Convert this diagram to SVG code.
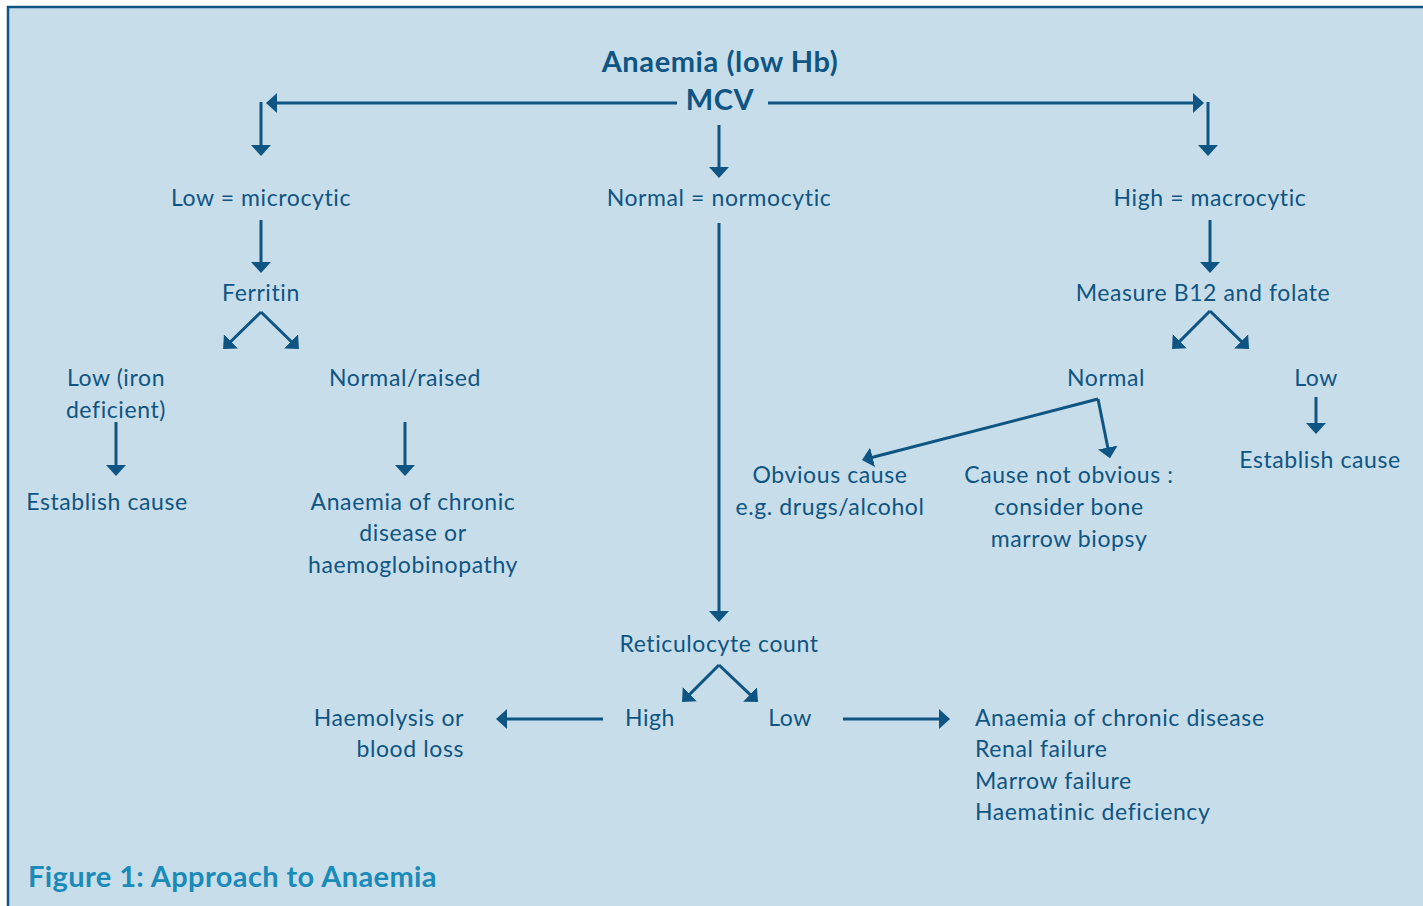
<svg xmlns="http://www.w3.org/2000/svg" width="1423" height="906" viewBox="0 0 1423 906">
<defs>
<marker id="ah" viewBox="0 0 11 20" refX="2" refY="10" markerWidth="11" markerHeight="20" markerUnits="userSpaceOnUse" orient="auto">
<path d="M0,0 L11,10 L0,20 z" fill="#0E5583"/>
</marker>
<style>
text{font-family:Lato,"Open Sans","Liberation Sans",sans-serif;fill:#0E5583;font-size:23px;letter-spacing:0.6px;text-anchor:middle}
.b{font-weight:bold;font-size:29px;letter-spacing:0.6px}
.l{text-anchor:start}
.r{text-anchor:end}
.fig{font-weight:bold;font-size:29px;letter-spacing:0.4px;fill:#1A8BB8;text-anchor:start}
.c{stroke:#0E5583;stroke-width:3;fill:none}
.a{marker-end:url(#ah)}
</style>
</defs>
<rect x="0" y="0" width="1423" height="906" fill="#ffffff"/>
<rect x="8" y="7" width="1430" height="920" fill="#C8DDEA" stroke="#0E5583" stroke-width="2.5"/>

<g id="connectors">
<line class="c a" x1="677" y1="103" x2="275" y2="103"/>
<line class="c a" x1="768" y1="103" x2="1195" y2="103"/>
<line class="c a" x1="261" y1="102" x2="261" y2="147"/>
<line class="c a" x1="1208" y1="102" x2="1208" y2="147"/>
<line class="c a" x1="719" y1="125" x2="719" y2="169"/>
<line class="c a" x1="261" y1="220" x2="261" y2="264"/>
<line class="c a" x1="1210" y1="220" x2="1210" y2="264"/>
<line class="c a" x1="719" y1="223" x2="719" y2="613"/>
<line class="c a" x1="261" y1="312" x2="229.5" y2="342.7"/>
<line class="c a" x1="261" y1="312" x2="292.5" y2="342.7"/>
<line class="c a" x1="1210" y1="311" x2="1178.4" y2="342.6"/>
<line class="c a" x1="1210" y1="311" x2="1242.6" y2="342.7"/>
<line class="c a" x1="116" y1="422" x2="116" y2="467"/>
<line class="c a" x1="405" y1="422" x2="405" y2="467"/>
<line class="c a" x1="1316" y1="397" x2="1316" y2="425"/>
<line class="c a" x1="1098" y1="399" x2="870.7" y2="457.8"/>
<line class="c a" x1="1098" y1="399" x2="1108.2" y2="449.5"/>
<line class="c a" x1="719" y1="665" x2="688.4" y2="695.6"/>
<line class="c a" x1="719" y1="665" x2="751.5" y2="695.8"/>
<line class="c a" x1="603" y1="719" x2="505" y2="719"/>
<line class="c a" x1="843" y1="719" x2="941" y2="719"/>
</g>

<g id="n-anaemia"><text class="b" x="720" y="72">Anaemia (low Hb)</text></g>
<g id="n-mcv"><text class="b" x="720" y="110">MCV</text></g>
<g id="n-low"><text x="261" y="206">Low = microcytic</text></g>
<g id="n-normal"><text x="719" y="206">Normal = normocytic</text></g>
<g id="n-high"><text x="1210" y="206">High = macrocytic</text></g>
<g id="n-ferritin"><text x="261" y="301">Ferritin</text></g>
<g id="n-b12"><text x="1203" y="301">Measure B12 and folate</text></g>
<g id="n-lowiron"><text x="116" y="386">Low (iron</text><text x="116" y="418">deficient)</text></g>
<g id="n-normraised"><text x="405" y="386">Normal/raised</text></g>
<g id="n-est1"><text x="107" y="510">Establish cause</text></g>
<g id="n-acd1"><text x="413" y="510">Anaemia of chronic</text><text x="413" y="541">disease or</text><text x="413" y="573">haemoglobinopathy</text></g>
<g id="n-b12normal"><text x="1106" y="386">Normal</text></g>
<g id="n-b12low"><text x="1316" y="386">Low</text></g>
<g id="n-est2"><text x="1320" y="468">Establish cause</text></g>
<g id="n-obvious"><text x="830" y="483">Obvious cause</text><text x="830" y="515">e.g. drugs/alcohol</text></g>
<g id="n-notobvious"><text x="1069" y="483">Cause not obvious :</text><text x="1069" y="515">consider bone</text><text x="1069" y="547">marrow biopsy</text></g>
<g id="n-retic"><text x="719" y="652">Reticulocyte count</text></g>
<g id="n-rhigh"><text x="650" y="726">High</text></g>
<g id="n-rlow"><text x="790" y="726">Low</text></g>
<g id="n-haem"><text class="r" x="464" y="726">Haemolysis or</text><text class="r" x="464" y="757">blood loss</text></g>
<g id="n-list"><text class="l" x="975" y="726">Anaemia of chronic disease</text><text class="l" x="975" y="757">Renal failure</text><text class="l" x="975" y="789">Marrow failure</text><text class="l" x="975" y="820">Haematinic deficiency</text></g>
<g id="caption"><text class="fig" x="28" y="887">Figure 1: Approach to Anaemia</text></g>
</svg>
